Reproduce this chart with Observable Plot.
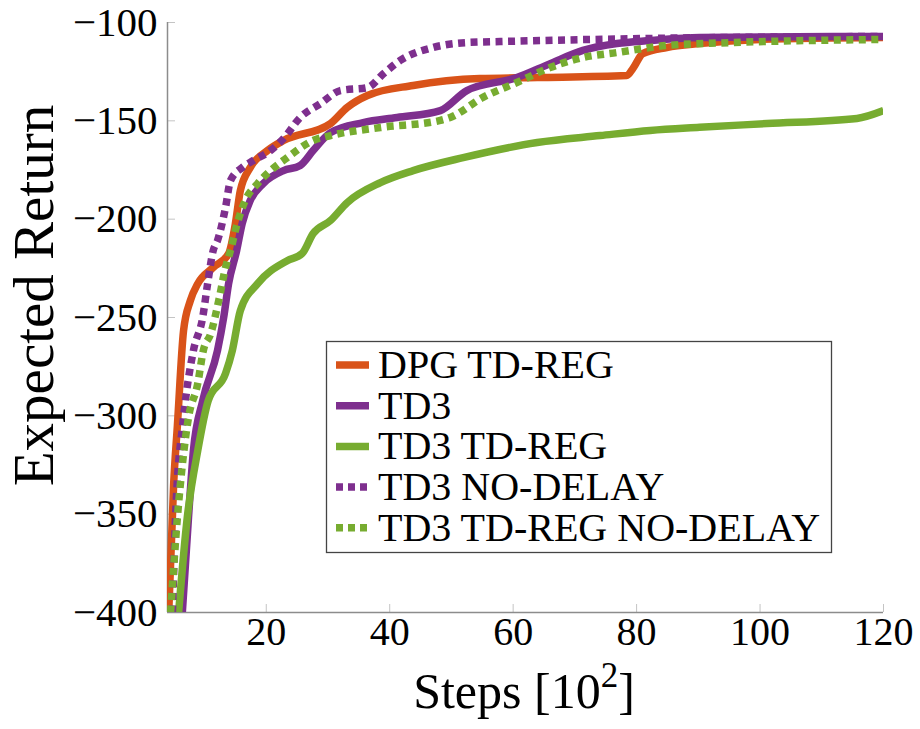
<!DOCTYPE html>
<html><head><meta charset="utf-8">
<script src="https://cdn.jsdelivr.net/npm/d3@7"></script>
<script src="https://cdn.jsdelivr.net/npm/@observablehq/plot@0.6"></script>
<style>body{margin:0;background:#fff}#chart{width:920px;height:729px}</style>
</head><body><div id="chart"></div>
<script>
const xTicks = [20, 40, 60, 80, 100, 120];
const yTicks = [-400, -350, -300, -250, -200, -150, -100];
const seriesNames = ["DPG TD-REG", "TD3", "TD3 TD-REG", "TD3 NO-DELAY", "TD3 TD-REG NO-DELAY"];
const seriesColors = ["#D95319", "#7E2F8E", "#77AC30", "#7E2F8E", "#77AC30"];
const seriesDotted = [false, false, false, true, true];

const dpgX = [4.2, 5.0, 5.6, 6.6, 7.7, 8.9, 11.4, 13.9, 15.0, 15.8, 17.4, 20.2, 22.8, 30.4, 33.1, 36.4, 43.8, 54.6, 63.9, 78.4, 79.4, 81.0, 84.9, 90.2, 100, 120];
const dpgY = [-400, -334.5, -305, -256.7, -241.4, -232.8, -224.6, -217.5, -202.2, -185.5, -173.8, -165.1, -160.0, -151.4, -143.2, -137.1, -132.0, -128.5, -128.0, -127.0, -123.4, -115.8, -112.7, -110.7, -108.6, -107.6];

const td3X = [6.4, 7.4, 8.2, 9.7, 12.1, 13.1, 13.9, 15.2, 16.1, 17.4, 19.5, 22.8, 25.5, 27.6, 30.4, 35.7, 41.2, 48.2, 52.5, 60.6, 66, 71.3, 76.8, 82.2, 90.2, 120];
const td3Y = [-400, -351.8, -317.7, -292.3, -266.8, -250, -232.8, -216, -202.2, -190.5, -181.9, -175.3, -172.7, -165.1, -156, -150.9, -148.3, -144.8, -134.6, -128, -120.9, -114.2, -110.7, -109.2, -107.6, -107.1];

const td3RegX = [5.8, 7.2, 8.9, 10.6, 13.4, 14.5, 15.8, 18.6, 23.4, 25.8, 27.6, 30.4, 33.1, 38.5, 43.8, 51.9, 63.9, 74.1, 82.2, 90.2, 101.1, 115.7, 120];
const td3RegY = [-400, -351.8, -317.7, -292.3, -278.5, -266.8, -246.5, -232.8, -221.1, -217.5, -207.3, -200.7, -191.6, -181.4, -175.3, -168.7, -161, -157.5, -154.9, -153.3, -151.4, -148.8, -144.8];

const td3NdX = [4.8, 5.3, 6.6, 8.2, 9.7, 10.5, 11.4, 12.1, 13.4, 14.2, 16.1, 17.9, 20.7, 22.8, 25.5, 28.8, 32, 36.4, 39, 41.7, 47, 52.5, 57.9, 82.2, 120];
const td3NdY = [-400, -351.8, -300.9, -266.8, -250, -232.8, -216, -210.9, -194.1, -180.4, -173.8, -170.2, -165.1, -159, -148.3, -141.2, -134.6, -133.1, -126, -119.3, -112.7, -110.2, -109.7, -108.1, -107.1];

const td3RegNdX = [4.5, 5.6, 7.4, 8.9, 9.8, 11, 12.3, 13.4, 14.2, 15.3, 16.6, 18.6, 20.7, 23.4, 27.6, 30.4, 38.5, 48.2, 49.8, 55.1, 60.6, 66, 71.3, 76.8, 84.9, 95.6, 120];
const td3RegNdY = [-400, -351.8, -300.9, -283.6, -266.8, -258.2, -241.4, -224.6, -216, -202.2, -190.5, -181.9, -175.3, -168.7, -160, -157.5, -153.4, -149.8, -148.3, -138.1, -130.5, -122.9, -117.8, -115.3, -111.7, -110.2, -108.6];

const seriesX = [dpgX, td3X, td3RegX, td3NdX, td3RegNdX];
const seriesY = [dpgY, td3Y, td3RegY, td3NdY, td3RegNdY];

const FONT = "'Liberation Serif', 'Times New Roman', serif";
const LW = 7.5;
const DASH = "7,5.5";

const lineMarks = seriesNames.map((name, i) => {
  const rows = seriesX[i].map((x, j) => ({x, y: seriesY[i][j]}));
  return Plot.line(rows, {
    x: "x", y: "y", stroke: seriesColors[i], strokeWidth: LW,
    strokeDasharray: seriesDotted[i] ? DASH : null, curve: "monotone-x",
    strokeLinejoin: "round", strokeLinecap: "butt", clip: true
  });
});

const plot = Plot.plot({
  width: 920, height: 729,
  marginLeft: 167, marginRight: 37, marginTop: 22, marginBottom: 117,
  style: {fontFamily: FONT, background: "white", color: "black"},
  x: {domain: [4, 120]},
  y: {domain: [-400, -100]},
  marks: [
    Plot.axisX({ticks: xTicks, tickSize: -8, stroke: "#c4c4c4", tickFormat: () => "", label: null}),
    Plot.axisY({ticks: yTicks, tickSize: -8, stroke: "#c4c4c4", tickFormat: () => "", label: null}),
    Plot.axisX({ticks: xTicks, tickSize: 0, tickPadding: 4, fontSize: 40, label: null, tickFormat: d => String(d)}),
    Plot.axisY({ticks: yTicks, tickSize: 0, tickPadding: 10, fontSize: 41, label: null, tickFormat: d => "\u2212" + Math.abs(d)}),
    Plot.ruleX([4], {stroke: "#8c8c8c", strokeWidth: 1.5}),
    Plot.ruleY([-400], {stroke: "#8c8c8c", strokeWidth: 1.5}),
    ...lineMarks,
    Plot.text(["Expected Return"], {frameAnchor: "left", textAnchor: "middle", lineAnchor: "middle", rotate: -90, dx: -133, dy: -22, fontSize: 57, fill: "black"})
  ]
});

document.getElementById("chart").appendChild(plot);

const svg = d3.select(plot);
// x label with superscript
const xl = svg.append("text")
  .attr("x", 524).attr("y", 708)
  .attr("text-anchor", "middle")
  .attr("font-family", FONT).attr("font-size", 50).attr("fill", "black");
xl.append("tspan").text("Steps [10");
xl.append("tspan").attr("font-size", 35).attr("dy", -21).text("2");
xl.append("tspan").attr("dy", 21).text("]");

// legend
const lg = svg.append("g").attr("text-anchor", "start");
lg.append("rect").attr("x", 326.5).attr("y", 341.5).attr("width", 505).attr("height", 211)
  .attr("fill", "white").attr("stroke", "#444").attr("stroke-width", 1.3);
seriesNames.forEach((name, i) => {
  const cy = 365 + i * 40.7;
  lg.append("line").attr("x1", 336).attr("x2", 369).attr("y1", cy).attr("y2", cy)
    .attr("stroke", seriesColors[i]).attr("stroke-width", LW)
    .attr("stroke-dasharray", seriesDotted[i] ? "7,5" : null);
  lg.append("text").attr("x", 378).attr("y", cy + 13).attr("text-anchor", "start")
    .attr("font-family", FONT).attr("font-size", 40).attr("fill", "black").text(name);
});
</script>
</body></html>
